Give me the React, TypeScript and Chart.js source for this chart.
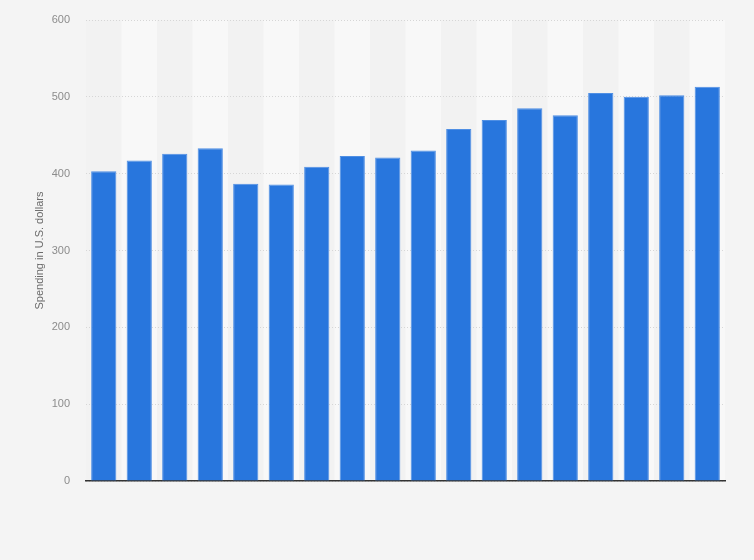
import { useEffect, useRef } from 'react';
import { Chart, registerables } from 'chart.js';

Chart.register(...registerables);

// category labels are not printed on the reference axis
const categories = ['1', '2', '3', '4', '5', '6', '7', '8', '9', '10', '11', '12', '13', '14', '15', '16', '17', '18'];
const spending = [403, 417, 426, 433, 387, 386, 409, 423, 421, 430, 458, 470, 485, 476, 505, 500, 502, 513];
const yTicks = [0, 100, 200, 300, 400, 500, 600];

const bandsPlugin = {
    id: 'bands',
    beforeDraw(chart: any) {
        const { ctx, chartArea, scales } = chart;
        const x = scales.x;
        const step = x.width / categories.length;
        ctx.save();
        categories.forEach((_, i) => {
            const cx = x.getPixelForValue(i);
            ctx.fillStyle = i % 2 === 1 ? '#f8f8f8' : '#f2f2f2';
            ctx.fillRect(cx - step / 2, chartArea.top, step, chartArea.bottom - chartArea.top);
        });
        ctx.restore();
    },
};

const App = () => {
    const chartRef = useRef<HTMLCanvasElement | null>(null);
    const chartInstance = useRef<Chart | null>(null);

    useEffect(() => {
        if (!chartRef.current) return;
        if (chartInstance.current) chartInstance.current.destroy();

        chartInstance.current = new Chart(chartRef.current, {
            type: 'bar',
            data: {
                labels: categories,
                datasets: [{
                    data: spending,
                    backgroundColor: '#2876dd',
                    borderColor: '#4f8fe4',
                    borderWidth: 1,
                    barPercentage: 0.71,
                    categoryPercentage: 1,
                }],
            },
            options: {
                animation: false,
                responsive: false,
                devicePixelRatio: 1,
                layout: { padding: { left: 0, right: 29, top: 20, bottom: 79 } },
                plugins: {
                    legend: { display: false },
                    tooltip: { enabled: false },
                },
                scales: {
                    x: {
                        grid: { display: false, drawTicks: false },
                        ticks: { display: false },
                        border: { display: true, color: '#333333', width: 1.5 },
                        afterFit: (s: any) => { s.height = 0; },
                    },
                    y: {
                        min: 0,
                        max: 600,
                        afterBuildTicks: (s: any) => { s.ticks = yTicks.map(v => ({ value: v })); },
                        afterFit: (s: any) => { s.width = 86; s.paddingTop = 0; s.paddingBottom = 0; },
                        grid: { color: '#d6d6d6', drawTicks: false, lineWidth: 1 },
                        border: { display: false, dash: [1, 2] },
                        ticks: {
                            padding: 16,
                            color: '#8c8c8c',
                            font: { family: 'Arial, "Liberation Sans", sans-serif', size: 11 },
                        },
                        title: {
                            display: true,
                            text: 'Spending in U.S. dollars',
                            color: '#6b6b6b',
                            padding: { top: 33, bottom: 0 },
                            font: { family: 'Arial, "Liberation Sans", sans-serif', size: 11 },
                        },
                    },
                },
            },
            plugins: [bandsPlugin],
        });

        return () => {
            if (chartInstance.current) {
                chartInstance.current.destroy();
                chartInstance.current = null;
            }
        };
    }, []);

    return (
        <div style={{ position: 'fixed', left: 0, top: 0, width: 754, height: 560, background: '#f4f4f4' }}>
            <canvas ref={chartRef} width={754} height={560}></canvas>
        </div>
    );
};

export default App;
